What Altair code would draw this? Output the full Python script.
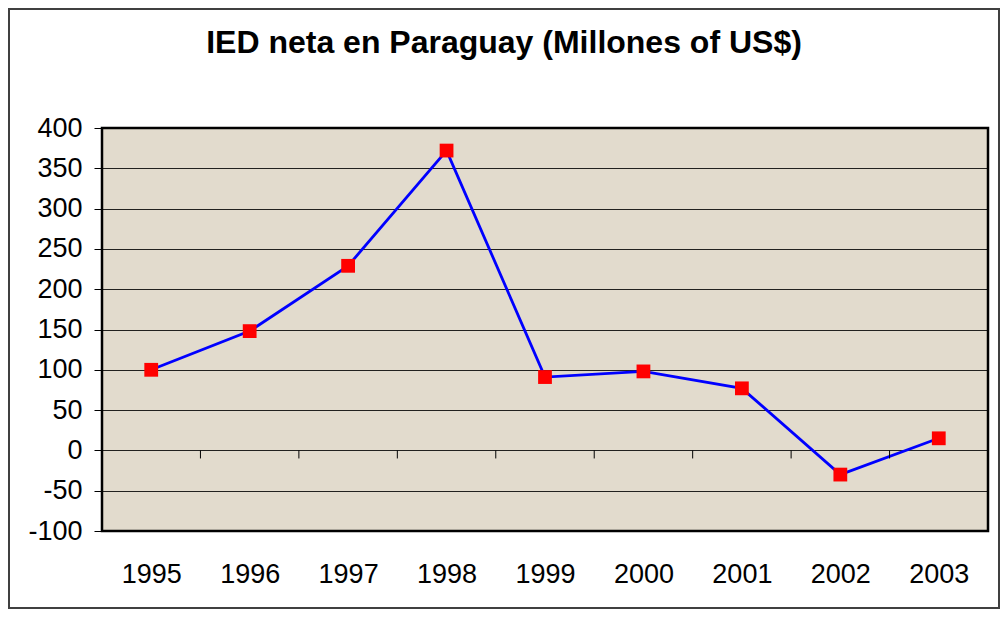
import altair as alt
import pandas as pd

years = [1995, 1996, 1997, 1998, 1999, 2000, 2001, 2002, 2003]
values = [100, 148, 229, 372, 91, 98, 77, -30, 15]
zero_tick_positions = [1995.5, 1996.5, 1997.5, 1998.5, 1999.5, 2000.5, 2001.5, 2002.5]
y_tick_values = [-100, -50, 0, 50, 100, 150, 200, 250, 300, 350, 400]
title_text = "IED neta en Paraguay (Millones of US$)"

FONT = "Liberation Sans"

df = pd.DataFrame({"year": years, "value": values})
ticks_df = pd.DataFrame({"x": zero_tick_positions,
                         "y0": [0] * len(zero_tick_positions),
                         "y1": [-10] * len(zero_tick_positions)})
one = pd.DataFrame({"a": [0]})

x_scale = alt.Scale(domain=[1994.5, 2003.5], nice=False, zero=False)
y_scale = alt.Scale(domain=[-100, 400], nice=False, zero=False)

x_axis = alt.Axis(values=years, format="d", title=None, grid=False, domain=False,
                  ticks=False, labelPadding=30, labelFontSize=27, labelFont=FONT,
                  labelColor="black")
y_axis = alt.Axis(values=y_tick_values, title=None, grid=True, gridColor="black",
                  gridWidth=1, gridOpacity=0.85, domain=False, tickSize=8,
                  tickColor="black", labelPadding=12, labelFontSize=27,
                  labelFont=FONT, labelColor="black",
                  labelExpr="'' + datum.value")

line = alt.Chart(df).mark_line(color="#0000ff", strokeWidth=2.8).encode(
    x=alt.X("year:Q", scale=x_scale, axis=x_axis),
    y=alt.Y("value:Q", scale=y_scale, axis=y_axis),
)

points = alt.Chart(df).mark_point(shape="square", filled=True, size=190,
                                  color="#ff0000", opacity=1).encode(
    x=alt.X("year:Q", scale=x_scale),
    y=alt.Y("value:Q", scale=y_scale),
)

zero_ticks = alt.Chart(ticks_df).mark_rule(color="black", strokeWidth=1).encode(
    x=alt.X("x:Q", scale=x_scale),
    y=alt.Y("y0:Q", scale=y_scale),
    y2="y1:Q",
)

frame = alt.Chart(one).mark_rect(fill="white", fillOpacity=0, stroke="#404040",
                                 strokeWidth=2).encode(
    x=alt.value(-93), x2=alt.value(897), y=alt.value(-119), y2=alt.value(480)
)

title = alt.Chart(one).mark_text(text=title_text, fontSize=32, fontWeight="bold",
                                 font=FONT, align="center", baseline="alphabetic",
                                 color="black").encode(
    x=alt.value(402), y=alt.value(-75)
)

chart = alt.layer(line, zero_ticks, points, frame, title).properties(
    width=886,
    height=403,
    autosize=alt.AutoSizeParams(type="none"),
    padding={"left": 94, "top": 120, "right": 12, "bottom": 78},
    background="white",
).configure_view(fill="#e2dbcd", stroke="black", strokeWidth=2.5)

chart.save("out.html", embed_options={"renderer": "svg", "actions": False})
